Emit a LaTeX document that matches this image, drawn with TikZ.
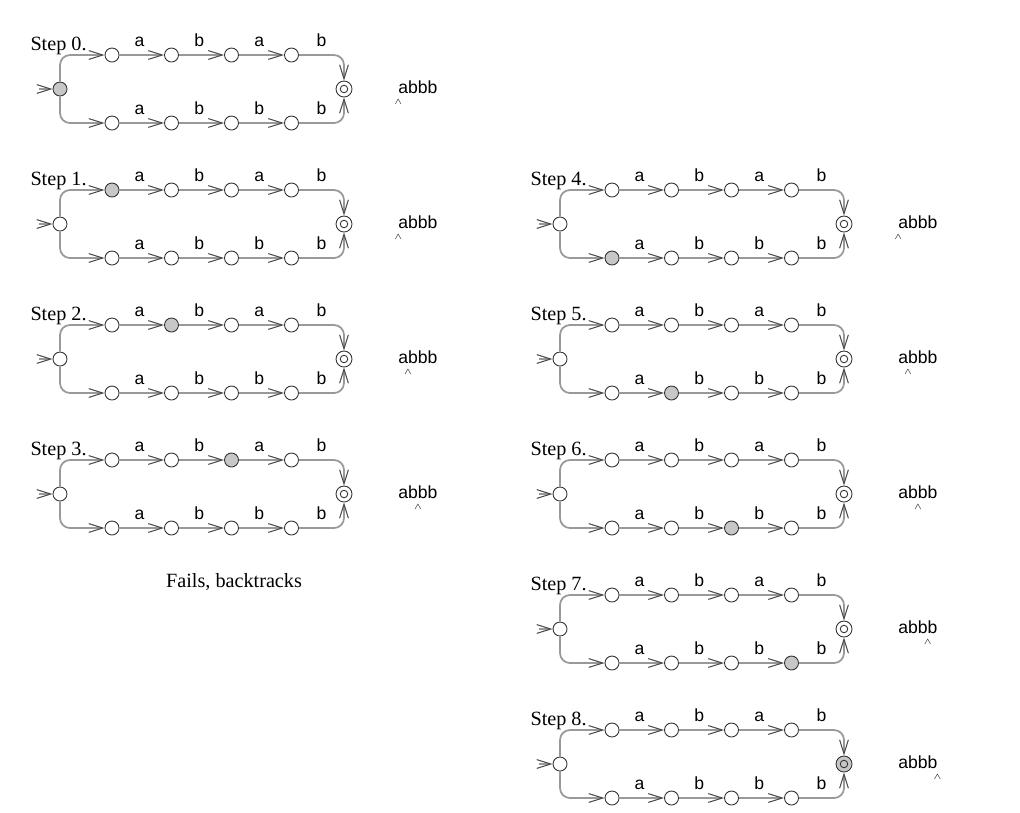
\documentclass[tikz,border=0pt]{standalone}
\usepackage{fontspec}
\setmainfont{Liberation Serif}
\setsansfont{Liberation Sans}
\usetikzlibrary{arrows.meta}
\definecolor{edgegray}{gray}{0.6}
\definecolor{curfill}{gray}{0.78}
\tikzset{
    state/.style={circle, draw=black!80, fill=white, line width=0.5pt, minimum size=0.28cm, inner sep=0pt},
    inner/.style={circle, draw=black!80, line width=0.5pt, minimum size=0.15cm, inner sep=0pt},
    trans/.style={draw=edgegray, line width=1pt, rounded corners=0.2cm,
        -{Straight Barb[length=8pt, width=5pt, line width=0.6pt, color=black!70]}},
    sym/.style={font=\sffamily, above=2pt, inner sep=2pt},
    steplabel/.style={font=\fontsize{11.5}{13}\selectfont, anchor=base east, inner sep=0pt},
    tapelabel/.style={font=\sffamily, anchor=base west, inner sep=0pt},
    on s/.style={}, on t1/.style={}, on t2/.style={}, on t3/.style={}, on t4/.style={},
    on b1/.style={}, on b2/.style={}, on b3/.style={}, on b4/.style={}, on f/.style={}
}
\newcommand{\ptr}{\makebox[0pt]{\raisebox{-6.5pt}{$\scriptscriptstyle\wedge$}}}
\newcommand{\tape}[1]{\ifcase#1 \ptr abbb\or a\ptr bbb\or ab\ptr bb\or abb\ptr b\or abbb\ptr\fi}
\newcommand{\runstep}[4]{%
    \begin{scope}[shift={(#1)}, on #3/.style={fill=curfill}]
    \node[steplabel] (lbl) at (0.54, 0.78) {Step #2.};
    \node[state, on s] (s) at (0, 0) {};
    \node[state, on t1] (t1) at (1.04, 0.68) {};
    \node[state, on t2] (t2) at (2.23, 0.68) {};
    \node[state, on t3] (t3) at (3.43, 0.68) {};
    \node[state, on t4] (t4) at (4.63, 0.68) {};
    \node[state, on b1] (b1) at (1.04, -0.68) {};
    \node[state, on b2] (b2) at (2.23, -0.68) {};
    \node[state, on b3] (b3) at (3.43, -0.68) {};
    \node[state, on b4] (b4) at (4.63, -0.68) {};
    \node[state, minimum size=0.32cm, on f] (f) at (5.68, 0) {};
    \node[inner, on f] (fin) at (f) {};
    \coordinate (in) at (-0.42, 0);
    \draw[trans] (in) -- (s);
    \draw[trans] (s) |- (t1);
    \draw[trans] (s) |- (b1);
    \draw[trans] (t1) -- node[sym, pos=0.45] {a} (t2);
    \draw[trans] (t2) -- node[sym, pos=0.45] {b} (t3);
    \draw[trans] (t3) -- node[sym, pos=0.45] {a} (t4);
    \draw[trans] (t4) -| node[sym, pos=0.25] {b} (f);
    \draw[trans] (b1) -- node[sym, pos=0.45] {a} (b2);
    \draw[trans] (b2) -- node[sym, pos=0.45] {b} (b3);
    \draw[trans] (b3) -- node[sym, pos=0.45] {b} (b4);
    \draw[trans] (b4) -| node[sym, pos=0.25] {b} (f);
    \node[tapelabel] (tp) at (6.76, -0.08) {\tape{#4}};
    \end{scope}}
\begin{document}
\begin{tikzpicture}
    \useasboundingbox (0, 0) rectangle (20.4, -16.24);
    \runstep{1.2, -1.78}{0}{s}{0}
    \runstep{1.2, -4.48}{1}{t1}{0}
    \runstep{1.2, -7.18}{2}{t2}{1}
    \runstep{1.2, -9.88}{3}{t3}{2}
    \node[font=\fontsize{11.5}{13}\selectfont] (fails) at (4.68, -11.64) {Fails, backtracks};
    \runstep{11.2, -4.48}{4}{b1}{0}
    \runstep{11.2, -7.18}{5}{b2}{1}
    \runstep{11.2, -9.88}{6}{b3}{2}
    \runstep{11.2, -12.58}{7}{b4}{3}
    \runstep{11.2, -15.28}{8}{f}{4}
\end{tikzpicture}
\end{document}
